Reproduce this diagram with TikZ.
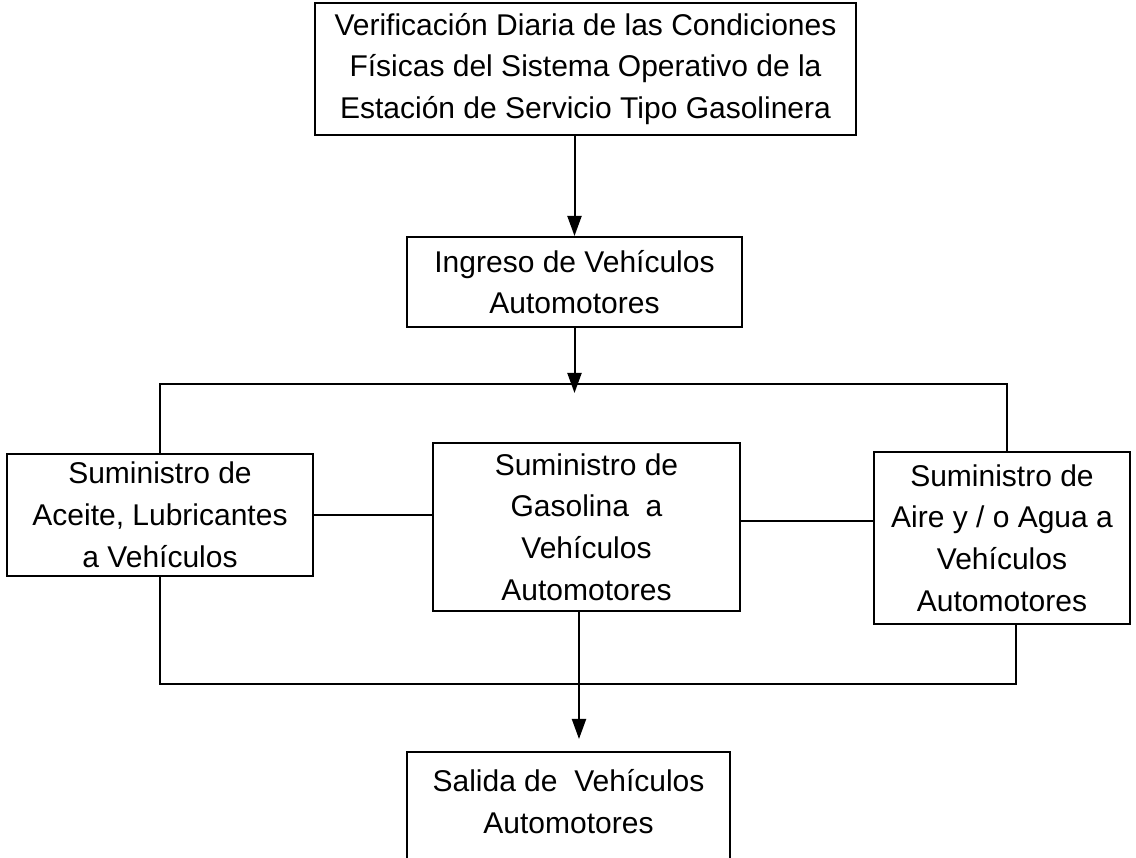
\documentclass[tikz,border=0pt]{standalone}
\usepackage{fontspec}
\setmainfont{Liberation Sans}
\usetikzlibrary{arrows.meta}
\newlength\px
\setlength\px{0.4pt}

\begin{document}
\begin{tikzpicture}[x=0.4pt, y=-0.4pt, line width=0.8pt,
  caja/.style={draw, line width=0.8pt, align=center, inner sep=0pt,
    font=\fontsize{12}{16.7}\selectfont},
  flecha/.style={-{Triangle[width=5.6pt,length=8pt]}}]
\useasboundingbox (0,0) rectangle (1136,858);

\node[caja, minimum width=541\px, minimum height=132\px] (verif) at (585.5,69)
  {Verificación Diaria de las Condiciones\\Físicas del Sistema Operativo de la\\Estación de Servicio Tipo Gasolinera};
\node[caja, minimum width=335\px, minimum height=90\px] (ingreso) at (574.5,282)
  {Ingreso de Vehículos\\Automotores};
\node[caja, minimum width=306\px, minimum height=122\px] (aceite) at (160,515)
  {Suministro de\\Aceite, Lubricantes\\a Vehículos};
\node[caja, minimum width=307\px, minimum height=168\px] (gasolina) at (586.5,527)
  {Suministro de\\Gasolina~ a\\Vehículos\\Automotores};
\node[caja, minimum width=256\px, minimum height=172\px] (aire) at (1002,538)
  {Suministro de\\Aire y / o Agua a\\Vehículos\\Automotores};
\node[caja, minimum width=323\px, minimum height=140\px] (salida) at (568.5,822)
  {Salida de~ Vehículos\\Automotores\\~};

\coordinate (bus) at (574.5,384);
\coordinate (bajada) at (574.5,393);
\coordinate (junta) at (579,684);
\coordinate (llegada) at (579,739);

\draw[flecha] (ingreso.north |- verif.south) -- (ingreso.north);
\draw[flecha] (ingreso.south) -- (bajada);
\draw (aceite.north) |- (bus) -| ([xshift=5\px]aire.north);
\draw (aceite.east) -- (aceite.east -| gasolina.west);
\draw ([yshift=6\px]gasolina.east) -- ([yshift=17\px]aire.west);
\draw (aceite.south) |- (junta) -| ([xshift=14\px]aire.south);
\draw[flecha] ([xshift=-7.5\px]gasolina.south) -- (llegada);
\end{tikzpicture}
\end{document}
